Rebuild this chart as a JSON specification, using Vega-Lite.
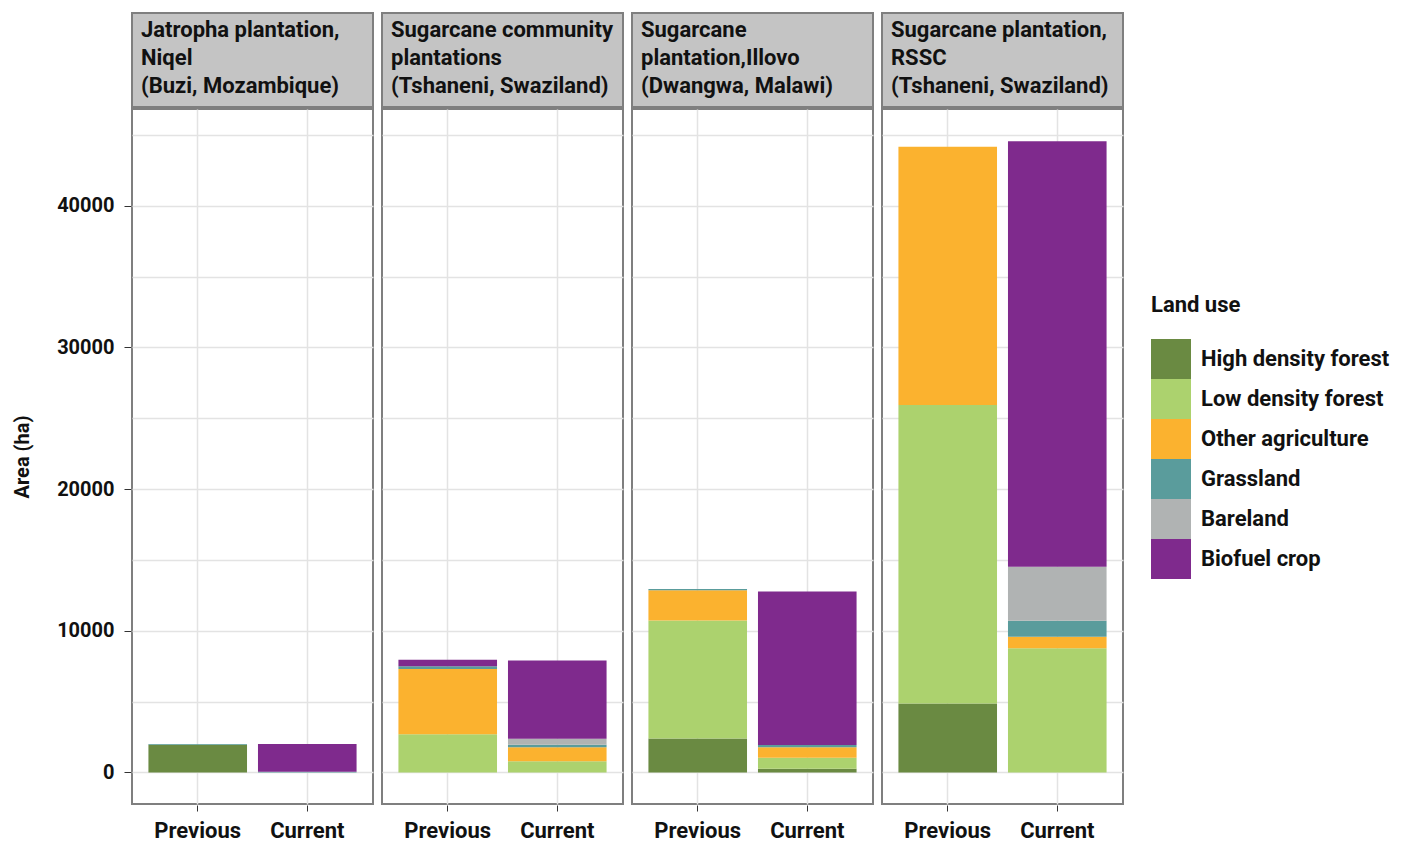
{
  "$schema": "https://vega.github.io/schema/vega-lite/v6.json",
  "padding": {"left": 12, "top": 12, "right": 0, "bottom": 0},
  "background": "white",
  "datasets": {
    "strips": [
      {"panel": "Jatropha plantation, Niqel (Buzi, Mozambique)", "line": 1, "text": "Jatropha plantation,"},
      {"panel": "Jatropha plantation, Niqel (Buzi, Mozambique)", "line": 2, "text": "Niqel"},
      {"panel": "Jatropha plantation, Niqel (Buzi, Mozambique)", "line": 3, "text": "(Buzi, Mozambique)"},
      {"panel": "Sugarcane community plantations (Tshaneni, Swaziland)", "line": 1, "text": "Sugarcane community"},
      {"panel": "Sugarcane community plantations (Tshaneni, Swaziland)", "line": 2, "text": "plantations"},
      {"panel": "Sugarcane community plantations (Tshaneni, Swaziland)", "line": 3, "text": "(Tshaneni, Swaziland)"},
      {"panel": "Sugarcane plantation,Illovo (Dwangwa, Malawi)", "line": 1, "text": "Sugarcane"},
      {"panel": "Sugarcane plantation,Illovo (Dwangwa, Malawi)", "line": 2, "text": "plantation,Illovo"},
      {"panel": "Sugarcane plantation,Illovo (Dwangwa, Malawi)", "line": 3, "text": "(Dwangwa, Malawi)"},
      {"panel": "Sugarcane plantation, RSSC (Tshaneni, Swaziland)", "line": 1, "text": "Sugarcane plantation,"},
      {"panel": "Sugarcane plantation, RSSC (Tshaneni, Swaziland)", "line": 2, "text": "RSSC"},
      {"panel": "Sugarcane plantation, RSSC (Tshaneni, Swaziland)", "line": 3, "text": "(Tshaneni, Swaziland)"}
    ],
    "bars": [
      {"panel": "Jatropha plantation, Niqel (Buzi, Mozambique)", "period": "Previous", "landuse": "High density forest", "area": 1960},
      {"panel": "Jatropha plantation, Niqel (Buzi, Mozambique)", "period": "Previous", "landuse": "Grassland", "area": 50},
      {"panel": "Jatropha plantation, Niqel (Buzi, Mozambique)", "period": "Current", "landuse": "Grassland", "area": 40},
      {"panel": "Jatropha plantation, Niqel (Buzi, Mozambique)", "period": "Current", "landuse": "Biofuel crop", "area": 1970},

      {"panel": "Sugarcane community plantations (Tshaneni, Swaziland)", "period": "Previous", "landuse": "Low density forest", "area": 2700},
      {"panel": "Sugarcane community plantations (Tshaneni, Swaziland)", "period": "Previous", "landuse": "Other agriculture", "area": 4600},
      {"panel": "Sugarcane community plantations (Tshaneni, Swaziland)", "period": "Previous", "landuse": "Grassland", "area": 190},
      {"panel": "Sugarcane community plantations (Tshaneni, Swaziland)", "period": "Previous", "landuse": "Biofuel crop", "area": 460},
      {"panel": "Sugarcane community plantations (Tshaneni, Swaziland)", "period": "Current", "landuse": "Low density forest", "area": 780},
      {"panel": "Sugarcane community plantations (Tshaneni, Swaziland)", "period": "Current", "landuse": "Other agriculture", "area": 1000},
      {"panel": "Sugarcane community plantations (Tshaneni, Swaziland)", "period": "Current", "landuse": "Grassland", "area": 170},
      {"panel": "Sugarcane community plantations (Tshaneni, Swaziland)", "period": "Current", "landuse": "Bareland", "area": 420},
      {"panel": "Sugarcane community plantations (Tshaneni, Swaziland)", "period": "Current", "landuse": "Biofuel crop", "area": 5530},

      {"panel": "Sugarcane plantation,Illovo (Dwangwa, Malawi)", "period": "Previous", "landuse": "High density forest", "area": 2400},
      {"panel": "Sugarcane plantation,Illovo (Dwangwa, Malawi)", "period": "Previous", "landuse": "Low density forest", "area": 8330},
      {"panel": "Sugarcane plantation,Illovo (Dwangwa, Malawi)", "period": "Previous", "landuse": "Other agriculture", "area": 2120},
      {"panel": "Sugarcane plantation,Illovo (Dwangwa, Malawi)", "period": "Previous", "landuse": "Grassland", "area": 90},
      {"panel": "Sugarcane plantation,Illovo (Dwangwa, Malawi)", "period": "Current", "landuse": "High density forest", "area": 250},
      {"panel": "Sugarcane plantation,Illovo (Dwangwa, Malawi)", "period": "Current", "landuse": "Low density forest", "area": 780},
      {"panel": "Sugarcane plantation,Illovo (Dwangwa, Malawi)", "period": "Current", "landuse": "Other agriculture", "area": 750},
      {"panel": "Sugarcane plantation,Illovo (Dwangwa, Malawi)", "period": "Current", "landuse": "Grassland", "area": 150},
      {"panel": "Sugarcane plantation,Illovo (Dwangwa, Malawi)", "period": "Current", "landuse": "Biofuel crop", "area": 10840},

      {"panel": "Sugarcane plantation, RSSC (Tshaneni, Swaziland)", "period": "Previous", "landuse": "High density forest", "area": 4870},
      {"panel": "Sugarcane plantation, RSSC (Tshaneni, Swaziland)", "period": "Previous", "landuse": "Low density forest", "area": 21070},
      {"panel": "Sugarcane plantation, RSSC (Tshaneni, Swaziland)", "period": "Previous", "landuse": "Other agriculture", "area": 18220},
      {"panel": "Sugarcane plantation, RSSC (Tshaneni, Swaziland)", "period": "Current", "landuse": "Low density forest", "area": 8770},
      {"panel": "Sugarcane plantation, RSSC (Tshaneni, Swaziland)", "period": "Current", "landuse": "Other agriculture", "area": 800},
      {"panel": "Sugarcane plantation, RSSC (Tshaneni, Swaziland)", "period": "Current", "landuse": "Grassland", "area": 1130},
      {"panel": "Sugarcane plantation, RSSC (Tshaneni, Swaziland)", "period": "Current", "landuse": "Bareland", "area": 3810},
      {"panel": "Sugarcane plantation, RSSC (Tshaneni, Swaziland)", "period": "Current", "landuse": "Biofuel crop", "area": 30050}
    ]
  },
  "spacing": 0,
  "vconcat": [
    {
      "data": {"name": "strips"},
      "facet": {
        "column": {
          "field": "panel",
          "type": "nominal",
          "header": null,
          "sort": ["Jatropha plantation, Niqel (Buzi, Mozambique)", "Sugarcane community plantations (Tshaneni, Swaziland)", "Sugarcane plantation,Illovo (Dwangwa, Malawi)", "Sugarcane plantation, RSSC (Tshaneni, Swaziland)"]
        }
      },
      "spacing": 7,
      "spec": {
        "width": 241,
        "height": 94,
        "view": {"fill": "#c4c4c4", "stroke": "#7f7f7f", "strokeWidth": 2},
        "mark": {"type": "text", "align": "left", "baseline": "middle", "dx": 9, "dy": -2, "fontSize": 22, "fontWeight": "bold", "color": "#111111"},
        "encoding": {
          "x": {"datum": 0, "type": "quantitative", "scale": {"domain": [0, 1]}, "axis": null},
          "y": {"field": "line", "type": "ordinal", "scale": {"type": "point", "padding": 0.667}, "axis": null},
          "text": {"field": "text"}
        }
      }
    },
    {
      "data": {"name": "bars"},
      "transform": [
        {"calculate": "indexof(['High density forest', 'Low density forest', 'Other agriculture', 'Grassland', 'Bareland', 'Biofuel crop'], datum.landuse)", "as": "stack_rank"}
      ],
      "facet": {
        "column": {
          "field": "panel",
          "type": "nominal",
          "header": null,
          "sort": ["Jatropha plantation, Niqel (Buzi, Mozambique)", "Sugarcane community plantations (Tshaneni, Swaziland)", "Sugarcane plantation,Illovo (Dwangwa, Malawi)", "Sugarcane plantation, RSSC (Tshaneni, Swaziland)"]
        }
      },
      "spacing": 7,
      "spec": {
        "width": 241,
        "height": 695,
        "view": {"stroke": "#7f7f7f", "strokeWidth": 2},
        "mark": {"type": "bar"},
        "encoding": {
          "x": {
            "field": "period",
            "type": "nominal",
            "sort": ["Previous", "Current"],
            "scale": {"paddingInner": 0.1, "paddingOuter": 0.15},
            "axis": {"title": null, "labelAngle": 0, "labelFontSize": 22, "labelFontWeight": "bold", "labelColor": "#111111", "labelPadding": 9, "tickColor": "#333333", "tickSize": 6, "domain": false, "grid": true}
          },
          "y": {
            "field": "area",
            "type": "quantitative",
            "stack": "zero",
            "scale": {"domain": [-2230, 46830], "nice": false, "zero": false},
            "axis": {
              "title": "Area (ha)",
              "titleFontSize": 20,
              "titleFontWeight": "bold",
              "titleColor": "#111111",
              "titlePadding": 24,
              "values": [0, 5000, 10000, 15000, 20000, 25000, 30000, 35000, 40000, 45000],
              "labelExpr": "datum.value % 10000 === 0 ? datum.value : ''",
              "tickOpacity": {"condition": {"test": "datum.value % 10000 === 0", "value": 1}, "value": 0},
              "labelFontSize": 20,
              "labelFontWeight": "bold",
              "labelColor": "#111111",
              "labelPadding": 10,
              "tickColor": "#333333",
              "tickSize": 7,
              "domain": false,
              "grid": true
            }
          },
          "order": {"field": "stack_rank", "type": "quantitative", "sort": "ascending"},
          "color": {
            "field": "landuse",
            "type": "nominal",
            "sort": ["High density forest", "Low density forest", "Other agriculture", "Grassland", "Bareland", "Biofuel crop"],
            "scale": {
              "domain": ["High density forest", "Low density forest", "Other agriculture", "Grassland", "Bareland", "Biofuel crop"],
              "range": ["#6a8a42", "#acd26e", "#fbb22f", "#5a9c9c", "#b0b3b3", "#7f2a8d"]
            },
            "legend": {
              "orient": "none",
              "legendX": 1019,
              "legendY": 282,
              "title": "Land use",
              "titleFontSize": 22,
              "titleFontWeight": "bold",
              "titleColor": "#111111",
              "titlePadding": 22,
              "labelFontSize": 22,
              "labelFontWeight": "bold",
              "labelColor": "#111111",
              "labelLimit": 0,
              "symbolType": "square",
              "symbolSize": 1600,
              "symbolStrokeWidth": 0,
              "symbolOpacity": 1,
              "rowPadding": 0,
              "labelOffset": 10
            }
          }
        }
      }
    }
  ],
  "config": {
    "font": "Roboto",
    "axis": {"gridColor": "#e3e3e3", "gridWidth": 1.5}
  }
}
